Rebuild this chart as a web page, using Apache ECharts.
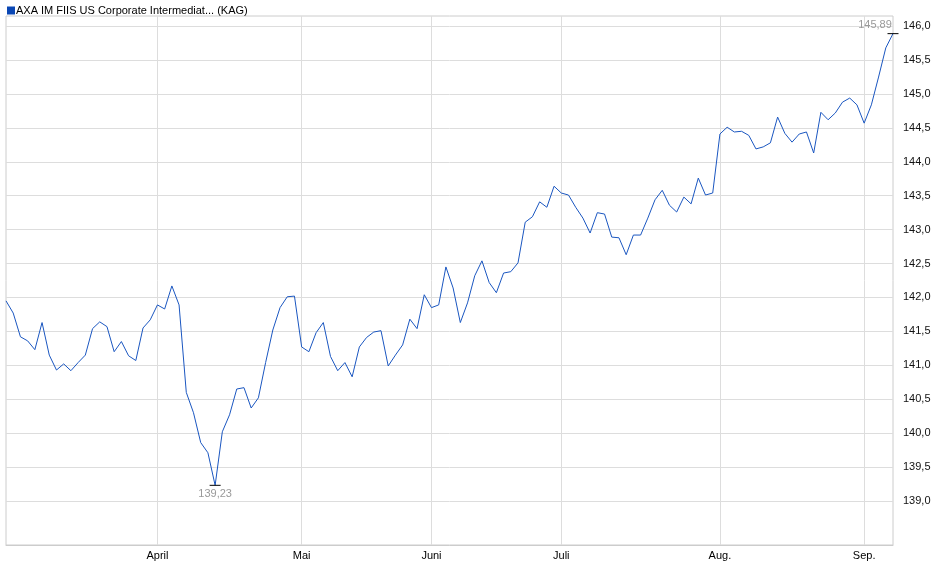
<!DOCTYPE html>
<html>
<head>
<meta charset="utf-8">
<script src="https://cdn.jsdelivr.net/npm/echarts@6/dist/echarts.min.js"></script>
<style>html,body{margin:0;padding:0;background:#fff}#chart{width:940px;height:579px}</style>
</head>
<body>
<div id="chart"></div>
<script>
var seriesName = 'AXA IM FIIS US Corporate Intermediat... (KAG)';
var prices = [
  141.95, 141.77, 141.42, 141.36, 141.23, 141.63, 141.15, 140.93, 141.02, 140.92, 141.04, 141.15,
  141.54, 141.64, 141.57, 141.20, 141.35, 141.14, 141.07, 141.55, 141.67, 141.89, 141.83, 142.17,
  141.89, 140.60, 140.30, 139.86, 139.71, 139.23, 140.02, 140.27, 140.65, 140.67, 140.37, 140.52,
  141.04, 141.52, 141.85, 142.01, 142.02, 141.27, 141.20, 141.48, 141.63, 141.13, 140.92, 141.04,
  140.83, 141.27, 141.41, 141.49, 141.51, 140.99, 141.15, 141.30, 141.68, 141.54, 142.04, 141.85,
  141.89, 142.45, 142.14, 141.63, 141.92, 142.32, 142.54, 142.22, 142.07, 142.36, 142.38, 142.51,
  143.11, 143.19, 143.41, 143.33, 143.64, 143.54, 143.51, 143.33, 143.17, 142.95, 143.25, 143.23,
  142.89, 142.88, 142.63, 142.92, 142.92, 143.17, 143.44, 143.58, 143.36, 143.26, 143.48, 143.38,
  143.76, 143.51, 143.54, 144.41, 144.51, 144.44, 144.45, 144.39, 144.19, 144.22, 144.28, 144.66,
  144.42, 144.29, 144.41, 144.44, 144.13, 144.73, 144.62, 144.72, 144.88, 144.94, 144.84, 144.57,
  144.84, 145.25, 145.68, 145.89
];
// month label positions (index in prices -> label)
var monthIdx = [21, 41, 59, 77, 99, 119];
var monthNames = ['April', 'Mai', 'Juni', 'Juli', 'Aug.', 'Sep.'];
var yTicks = [139, 139.5, 140, 140.5, 141, 141.5, 142, 142.5, 143, 143.5, 144, 144.5, 145, 145.5, 146];

var cats = prices.map(function (p, i) {
    var k = monthIdx.indexOf(i);
    return k >= 0 ? monthNames[k] : String(i);
});
var minI = prices.indexOf(Math.min.apply(null, prices));
var lastI = prices.length - 1;
function fmt(v) { return v.toFixed(2).replace('.', ','); }

var myChart = echarts.init(document.getElementById('chart'));
myChart.setOption({
    animation: false,
    textStyle: { fontFamily: 'Liberation Sans, Arial, sans-serif' },
    legend: {
        left: 2, top: 0,
        icon: 'rect', itemWidth: 8, itemHeight: 8, itemGap: 4,
        textStyle: { fontSize: 11, color: '#000', padding: [0, 0, 0, -4] },
        data: [seriesName]
    },
    grid: { left: 6, right: 47, top: 16, bottom: 34, show: true, borderColor: '#ccc', borderWidth: 1 },
    xAxis: {
        type: 'category',
        data: cats,
        boundaryGap: false,
        axisLine: { lineStyle: { color: '#ccc' } },
        axisTick: { show: false },
        axisLabel: {
            interval: function (i) { return monthIdx.indexOf(i) >= 0; },
            color: '#000', fontSize: 11, margin: 5
        },
        splitLine: {
            show: true,
            interval: function (i) { return monthIdx.indexOf(i) >= 0; },
            lineStyle: { color: '#ddd' }
        }
    },
    yAxis: {
        type: 'value',
        position: 'right',
        min: 138.35, max: 146.15,
        axisLine: { show: false },
        axisTick: { show: false, customValues: yTicks },
        axisLabel: {
            customValues: yTicks,
            color: '#111', fontSize: 11, margin: 10,
            formatter: function (v) { return v.toFixed(1).replace('.', ','); }
        },
        splitLine: { show: true, lineStyle: { color: '#ddd' } }
    },
    series: [{
        name: seriesName,
        type: 'line',
        data: prices,
        symbol: 'none',
        color: '#0a47b4',
        lineStyle: { width: 1, color: '#1a56c0' },
        markPoint: {
            symbol: 'rect',
            symbolSize: [11, 1],
            itemStyle: { color: '#000' },
            data: [
                { coord: [minI, prices[minI]], label: { position: 'bottom', distance: 3, formatter: fmt(prices[minI]) } },
                { coord: [lastI, prices[lastI]], label: { position: 'top', distance: 3, offset: [-18, 0], formatter: fmt(prices[lastI]) } }
            ],
            label: { color: '#999', fontSize: 11 }
        }
    }]
});
</script>
</body>
</html>
